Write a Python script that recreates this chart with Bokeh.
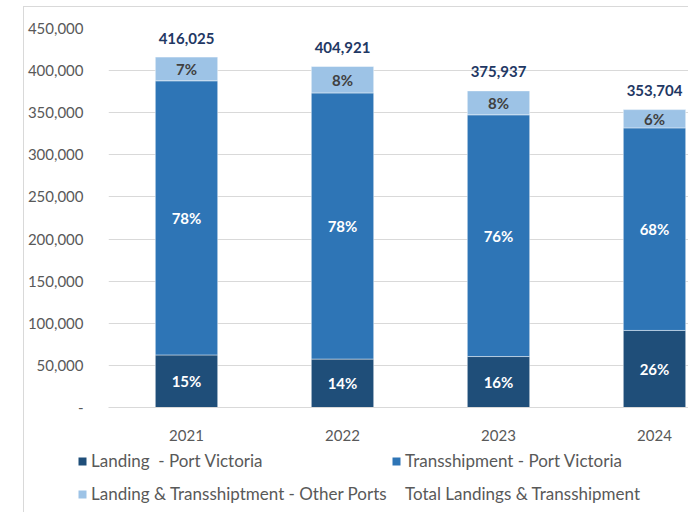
from bokeh.plotting import figure
from bokeh.layouts import column
from bokeh.models import (Range1d, FixedTicker, NumeralTickFormatter, ColumnDataSource,
                          Legend, LegendItem)
from bokeh.core.properties import value
from bokeh.embed import file_html
from bokeh.resources import INLINE

# ---- data ----
years = [2021, 2022, 2023, 2024]
landing = [62400, 57500, 60500, 91500]
transship = [325500, 316000, 287000, 240500]
other = [28125, 31421, 28437, 21704]
totals = [416025, 404921, 375937, 353704]
landing_pct = ["15%", "14%", "16%", "26%"]
transship_pct = ["78%", "78%", "76%", "68%"]
other_pct = ["7%", "8%", "8%", "6%"]
total_labels = ["416,025", "404,921", "375,937", "353,704"]
y_ticks = [0, 50000, 100000, 150000, 200000, 250000, 300000, 350000, 400000, 450000]

series_names = ["Landing\u00a0\u00a0- Port Victoria", "Transshipment - Port Victoria",
                "Landing & Transshiptment - Other Ports", "Total Landings & Transshipment"]

# ---- derived stacking ----
b1 = landing
b2 = [a + b for a, b in zip(landing, transship)]
b3 = [a + c for a, c in zip(b2, other)]
src = ColumnDataSource(dict(
    year=years, zero=[0] * len(years), b1=b1, b2=b2, b3=b3, total=totals,
    m1=[v / 2 for v in b1],
    m2=[(a + b) / 2 for a, b in zip(b1, b2)],
    m3=[(a + b) / 2 for a, b in zip(b2, b3)],
    lp=landing_pct, tp=transship_pct, op=other_pct, tl=total_labels,
))

FONT = "Lato"
C_DARK = "#1F4E79"
C_MID = "#2E75B6"
C_LIGHT = "#9DC3E6"
GRAY = "#595959"
GRID = "#D9D9D9"

WIDTH = 664
H1 = 438
H2 = 67

p = figure(width=WIDTH, height=H1, output_backend="svg", toolbar_location=None,
           x_range=Range1d(2020.5, 2020.5 + (WIDTH - 84) / 156), y_range=Range1d(0, 450000),
           min_border_left=84, min_border_right=0, min_border_top=21, min_border_bottom=38)
p.frame_align = False
p.outline_line_color = None
p.background_fill_color = "white"
p.border_fill_color = "white"

W = 0.40
bar_style = dict(line_color="white", line_alpha=0.45, line_width=1)
r1 = p.vbar(x="year", width=W, bottom="zero", top="b1", source=src, fill_color=C_DARK, **bar_style)
r2 = p.vbar(x="year", width=W, bottom="b1", top="b2", source=src, fill_color=C_MID, **bar_style)
r3 = p.vbar(x="year", width=W, bottom="b2", top="b3", source=src, fill_color=C_LIGHT, **bar_style)

common = dict(text_align="center", text_font=value(FONT), text_font_style="bold",
              text_font_size="15px", source=src)
p.text(x="year", y="m1", text="lp", text_baseline="middle", text_color="white", **common)
p.text(x="year", y="m2", text="tp", text_baseline="middle", text_color="white", **common)
p.text(x="year", y="m3", text="op", text_baseline="middle", text_color="#404040", **common)
p.text(x="year", y="total", text="tl", text_baseline="middle", y_offset=-19,
       text_color="#1F3864", **common)

# axes
p.yaxis.ticker = FixedTicker(ticks=y_ticks)
p.yaxis.formatter = NumeralTickFormatter(format="0,0")
p.yaxis.major_label_overrides = {0: "-"}
p.yaxis.axis_line_color = None
p.yaxis.major_tick_line_color = None
p.yaxis.minor_tick_line_color = None
p.yaxis.major_label_standoff = 19
p.xaxis.ticker = FixedTicker(ticks=years)
p.xaxis.axis_line_color = GRID
p.xaxis.major_tick_line_color = None
p.xaxis.minor_tick_line_color = None
p.xaxis.major_label_standoff = 16
for ax in (p.xaxis, p.yaxis):
    ax.major_label_text_font = FONT
    ax.major_label_text_font_size = "15px"
    ax.major_label_text_color = GRAY

p.xgrid.grid_line_color = None
p.ygrid.grid_line_color = GRID
p.ygrid.ticker = FixedTicker(ticks=y_ticks)

# ---- legend strip (proxy renderers use the same data; they fall outside this strip's ranges) ----
p2 = figure(width=WIDTH, height=H2, output_backend="svg", toolbar_location=None,
            x_range=Range1d(0, 1), y_range=Range1d(0, 1),
            x_axis_location=None, y_axis_location=None,
            min_border_left=0, min_border_right=0, min_border_top=0, min_border_bottom=0)
p2.frame_align = False
p2.grid.grid_line_color = None
p2.outline_line_color = None
p2.border_fill_color = "white"
l1 = p2.vbar(x="year", bottom="zero", top="b1", width=W, source=src, fill_color=C_DARK, line_color=None)
l2 = p2.vbar(x="year", bottom="b1", top="b2", width=W, source=src, fill_color=C_MID, line_color=None)
l3 = p2.vbar(x="year", bottom="b2", top="b3", width=W, source=src, fill_color=C_LIGHT, line_color=None)
l4 = p2.line(x="year", y="total", source=src, line_alpha=0)

def add_leg(renderer, label, loc):
    leg = Legend(items=[LegendItem(label=label, renderers=[renderer])], location=loc,
                 glyph_width=10, glyph_height=10, label_standoff=4, padding=0, margin=0,
                 label_height=20, border_line_color=None, background_fill_alpha=0,
                 label_text_font=FONT, label_text_font_size="17px", label_text_color=GRAY)
    p2.add_layout(leg)

add_leg(l1, series_names[0], (53, 41))
add_leg(l2, series_names[1], (367, 41))
add_leg(l3, series_names[2], (53, 8))
add_leg(l4, series_names[3], (367, 8))

layout = column(p, p2, spacing=0)
layout.margin = (6, 0, 0, 23)
layout.styles = {"border-left": "1px solid #D9D9D9", "border-top": "1px solid #D9D9D9"}

open("out.html", "w").write(file_html(layout, INLINE))
